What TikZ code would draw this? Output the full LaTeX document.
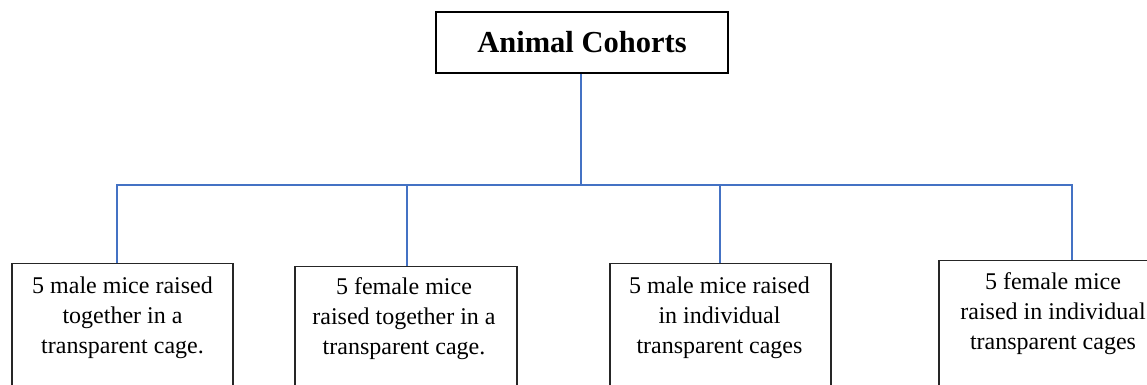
\documentclass[tikz,border=0pt]{standalone}
\usepackage{fontspec}
\setmainfont{Liberation Serif}
\definecolor{linkblue}{RGB}{68,114,196}
\begin{document}
\begin{tikzpicture}[x=1pt,y=-1pt,
  conn/.style={draw=linkblue,line width=2pt},
  topbox/.style={draw=black,line width=1.8pt,inner sep=0pt,minimum width=292pt,minimum height=61pt,font=\fontsize{30.5}{36}\selectfont\bfseries},
  cohort/.style={draw=black!85,line width=1.3pt,inner sep=0pt,minimum height=200pt,anchor=north},
  cohorttext/.style={inner sep=0pt,anchor=north,align=center,font=\fontsize{24}{30}\selectfont}]
\useasboundingbox (0,0) rectangle (1147,384);
\clip (0,0) rectangle (1147,384);
\fill[white] (0,0) rectangle (1147,384);
% title
\node[topbox] (top) at (582,42.5) {Animal Cohorts};
% cohort boxes
\node[cohort,minimum width=221pt] (b1) at (122.5,263) {};
\node[cohort,minimum width=222pt] (b2) at (406,266) {};
\node[cohort,minimum width=221pt] (b3) at (720.5,263) {};
\node[cohort,minimum width=227pt] (b4) at (1052.5,260) {};
% texts
\node[cohorttext] (t1) at (122.5,276.5) {5 male mice raised\\together in a\\transparent cage.};
\node[cohorttext] (t2) at (404,277.5) {5 female mice\\raised together in a\\transparent cage.};
\node[cohorttext] (t3) at (719.5,276.5) {5 male mice raised\\in individual\\transparent cages};
\node[cohorttext] (t4) at (1053,272.5) {5 female mice\\raised in individual\\transparent cages};
% connector points
\coordinate (j) at (581,185);
\coordinate (d1) at (117,263);
\coordinate (d2) at (407,266);
\coordinate (d3) at (720,263);
\coordinate (d4) at (1072,260);
% connectors
\draw[conn] (top.south -| j) -- (j);
\draw[conn] (d1) -- (d1 |- j) -- (d4 |- j) -- (d4);
\draw[conn] (d2 |- j) -- (d2);
\draw[conn] (d3 |- j) -- (d3);
\end{tikzpicture}
\end{document}
